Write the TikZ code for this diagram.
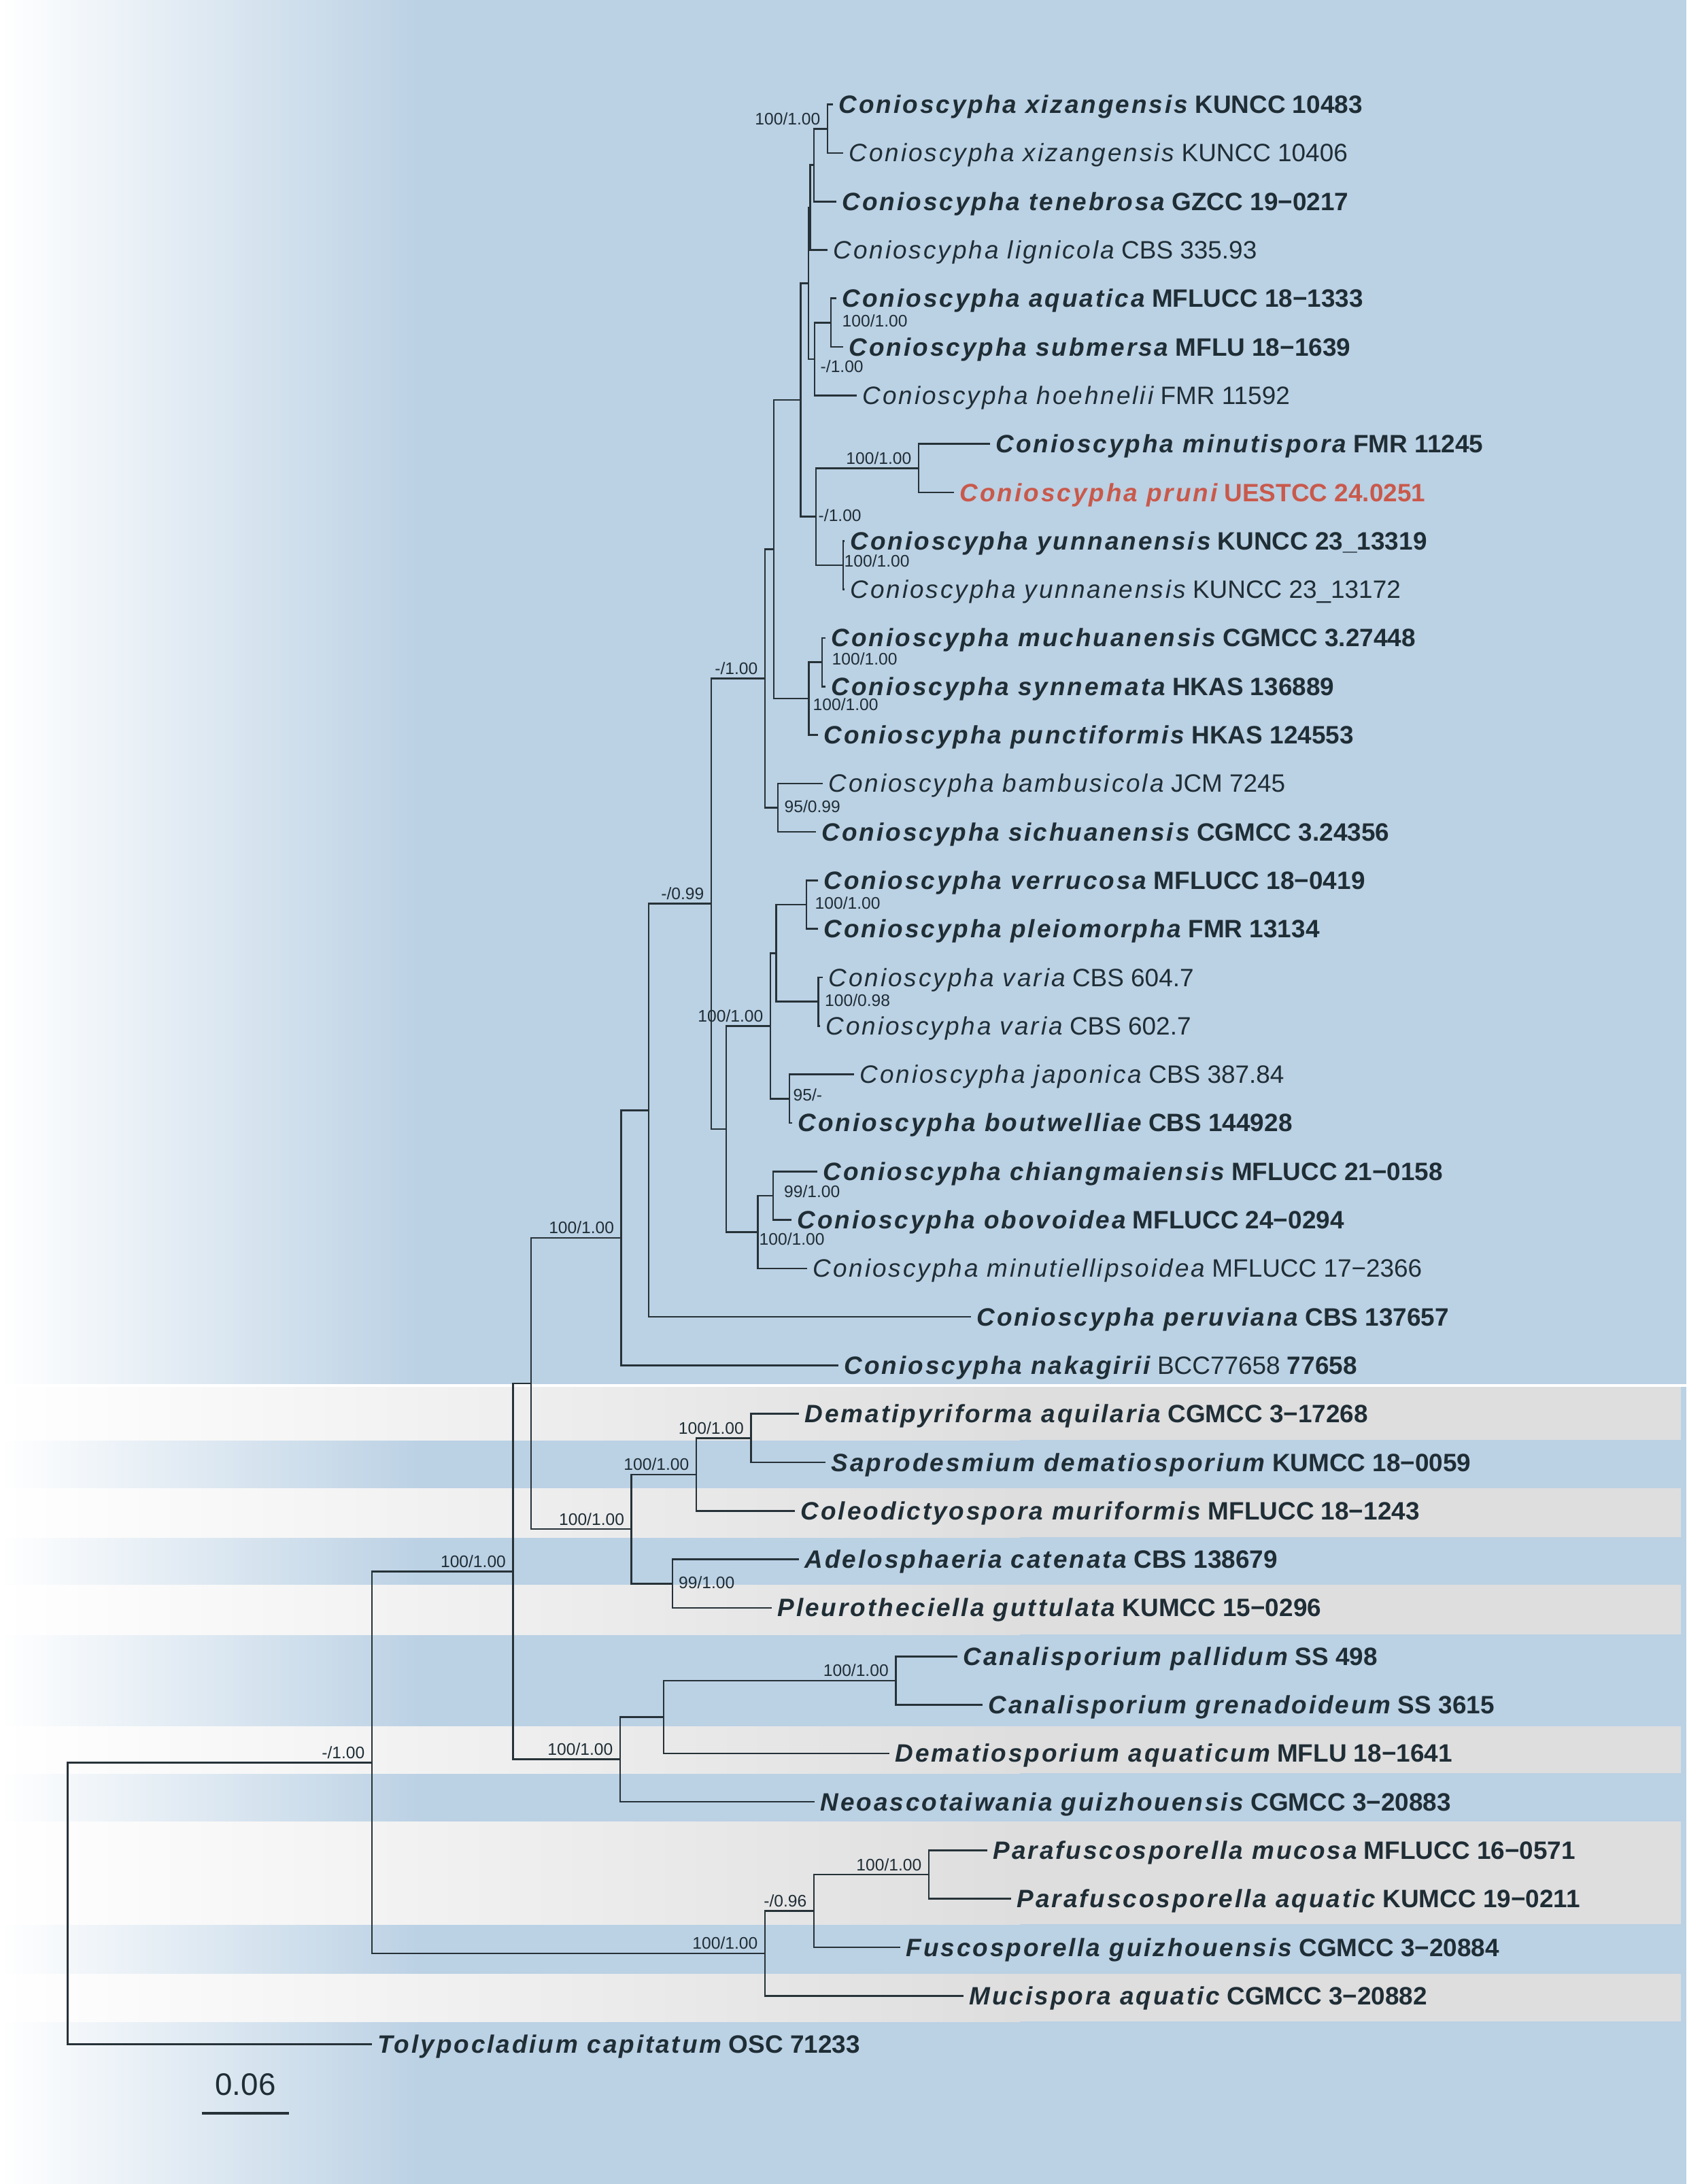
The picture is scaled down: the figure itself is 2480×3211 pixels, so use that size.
\documentclass[tikz,border=0pt]{standalone}
\usepackage{fontspec}
\setmainfont{Liberation Sans}
\newfontfamily\taxfont[LetterSpace=8]{Liberation Sans}
\usepackage{tikz}
\usetikzlibrary{positioning}
\definecolor{darkink}{HTML}{1F2D35}
\definecolor{branchcol}{HTML}{263238}
\definecolor{bgblue}{HTML}{BBD1E4}
\definecolor{bggrey}{HTML}{DEDEDF}
\definecolor{newsp}{HTML}{C9594B}
\newcommand{\bsp}[2]{{\taxfont\bfseries\itshape #1} {\bfseries #2}}
\newcommand{\rsp}[2]{{\taxfont\itshape #1} #2}

\begin{document}
\begin{tikzpicture}[x=0.01cm,y=-0.01cm]
    \tikzstyle{taxon}=[anchor=base west,inner sep=0pt,text=darkink,font=\fontsize{10.5}{12}\selectfont]
    \tikzstyle{support_lab}=[inner sep=0pt,text=darkink,font=\fontsize{7}{8}\selectfont]
    \tikzstyle{branch}=[draw=branchcol,line width=0.75pt]
    \useasboundingbox (0,0) rectangle (2480,3211);

    % background and bands
    \shade[left color=white,right color=bgblue] (0,0) rectangle (620,3211);
    \fill[bgblue] (619,0) rectangle (2480,3211);
    \foreach \top/\bot in {2038/2117,2188/2260,2330/2403,2538/2607,2678/2829,2902/2972}{
        \shade[left color=white,right color=bggrey] (0,\top) rectangle (1500,\bot);
        \fill[bggrey] (1499,\top) rectangle (2472,\bot);
    }
    \draw[white,line width=1pt] (0,2037) -- (2480,2037);

    % tips
    \coordinate (t1) at (1225,153.6);
    \coordinate (t2) at (1240,224.9);
    \coordinate (t3) at (1230,296.2);
    \coordinate (t4) at (1217,367.5);
    \coordinate (t5) at (1230,438.8);
    \coordinate (t6) at (1240,510.1);
    \coordinate (t7) at (1260,581.4);
    \coordinate (t8) at (1456,652.7);
    \coordinate (t9) at (1403,724.0);
    \coordinate (t10) at (1242,795.3);
    \coordinate (t11) at (1242,866.6);
    \coordinate (t12) at (1214,937.9);
    \coordinate (t13) at (1214,1009.2);
    \coordinate (t14) at (1203,1080.5);
    \coordinate (t15) at (1210,1151.8);
    \coordinate (t16) at (1200,1223.1);
    \coordinate (t17) at (1203,1294.4);
    \coordinate (t18) at (1203,1365.7);
    \coordinate (t19) at (1210,1437.0);
    \coordinate (t20) at (1206,1508.3);
    \coordinate (t21) at (1256,1579.6);
    \coordinate (t22) at (1165,1650.9);
    \coordinate (t23) at (1202,1722.2);
    \coordinate (t24) at (1164,1793.5);
    \coordinate (t25) at (1187,1864.8);
    \coordinate (t26) at (1428,1936.1);
    \coordinate (t27) at (1233,2007.4);
    \coordinate (t28) at (1175,2078.7);
    \coordinate (t29) at (1214,2150.0);
    \coordinate (t30) at (1169,2221.3);
    \coordinate (t31) at (1175,2292.6);
    \coordinate (t32) at (1135,2363.9);
    \coordinate (t33) at (1408,2435.2);
    \coordinate (t34) at (1445,2506.5);
    \coordinate (t35) at (1308,2577.8);
    \coordinate (t36) at (1198,2649.1);
    \coordinate (t37) at (1452,2720.4);
    \coordinate (t38) at (1487,2791.7);
    \coordinate (t39) at (1324,2863.0);
    \coordinate (t40) at (1417,2934.3);
    \coordinate (t41) at (547,3005.6);

    % internal nodes
    \coordinate (nA) at (1217,189.25);
    \coordinate (nB) at (1197,242.7);
    \coordinate (nC) at (1191.6,305.1);
    \coordinate (nAq) at (1222,474.45);
    \coordinate (nE) at (1198,527.9);
    \coordinate (nD) at (1189,416.5);
    \coordinate (nMi) at (1351,688.35);
    \coordinate (nYu) at (1240,830.95);
    \coordinate (nF) at (1200,759.65);
    \coordinate (nDF) at (1177.5,588.1);
    \coordinate (nMu) at (1209,973.55);
    \coordinate (nMg) at (1189.4,1027.0);
    \coordinate (nG) at (1138,807.5);
    \coordinate (nBa) at (1144,1187.45);
    \coordinate (nH) at (1125,997.5);
    \coordinate (nVe) at (1186,1330.05);
    \coordinate (nVa) at (1203.4,1472.65);
    \coordinate (nJ) at (1141.7,1401.35);
    \coordinate (nJa) at (1161,1615.25);
    \coordinate (nK) at (1133,1508.3);
    \coordinate (nCh) at (1137,1757.85);
    \coordinate (nM) at (1114.3,1811.3);
    \coordinate (nL) at (1068,1659.8);
    \coordinate (nI) at (1046,1328.65);
    \coordinate (nN) at (954,1632.4);
    \coordinate (nO) at (913.8,1819.9);
    \coordinate (nU) at (1104.5,2114.35);
    \coordinate (nS) at (1024,2167.8);
    \coordinate (nT) at (989,2328.25);
    \coordinate (nQ) at (928.7,2248);
    \coordinate (nP) at (781,2034);
    \coordinate (nX) at (1317.4,2470.85);
    \coordinate (nW) at (976,2524.3);
    \coordinate (nV) at (912,2586.7);
    \coordinate (nR) at (754.6,2310.4);
    \coordinate (nAA) at (1366,2756.05);
    \coordinate (nZb) at (1197,2809.5);
    \coordinate (nZ) at (1125,2871.9);
    \coordinate (nY) at (547,2591.2);
    \coordinate (root) at (99.5,2798.4);

    \foreach \n/\a/\b in {nA/t1/t2,nB/nA/t3,nC/nB/t4,nAq/t5/t6,nE/nAq/t7,nD/nC/nE,
        nMi/t8/t9,nYu/t10/t11,nF/nMi/nYu,nDF/nD/nF,nMu/t12/t13,nMg/nMu/t14,
        nG/nDF/nMg,nBa/t15/t16,nH/nG/nBa,nVe/t17/t18,nVa/t19/t20,nJ/nVe/nVa,
        nJa/t21/t22,nK/nJ/nJa,nCh/t23/t24,nM/nCh/t25,nL/nK/nM,nI/nH/nL,
        nN/nI/t26,nO/nN/t27,nU/t28/t29,nS/nU/t30,nT/t31/t32,nQ/nS/nT,nP/nO/nQ,
        nX/t33/t34,nW/nX/t35,nV/nW/t36,nR/nP/nV,nAA/t37/t38,nZb/nAA/t39,
        nZ/nZb/t40,nY/nR/nZ,root/nY/t41}
        \draw[branch] (\a) -| (\n) |- (\b);

    % taxa
    \node[taxon] (lab1) at ([shift={(8,13)}]t1) {\bsp{Conioscypha xizangensis}{KUNCC 10483}};
    \node[taxon] (lab2) at ([shift={(8,13)}]t2) {\rsp{Conioscypha xizangensis}{KUNCC 10406}};
    \node[taxon] (lab3) at ([shift={(8,13)}]t3) {\bsp{Conioscypha tenebrosa}{GZCC 19−0217}};
    \node[taxon] (lab4) at ([shift={(8,13)}]t4) {\rsp{Conioscypha lignicola}{CBS 335.93}};
    \node[taxon] (lab5) at ([shift={(8,13)}]t5) {\bsp{Conioscypha aquatica}{MFLUCC 18−1333}};
    \node[taxon] (lab6) at ([shift={(8,13)}]t6) {\bsp{Conioscypha submersa}{MFLU 18−1639}};
    \node[taxon] (lab7) at ([shift={(8,13)}]t7) {\rsp{Conioscypha hoehnelii}{FMR 11592}};
    \node[taxon] (lab8) at ([shift={(8,13)}]t8) {\bsp{Conioscypha minutispora}{FMR 11245}};
    \node[taxon,text=newsp] (lab9) at ([shift={(8,13)}]t9) {\bsp{Conioscypha pruni}{UESTCC 24.0251}};
    \node[taxon] (lab10) at ([shift={(8,13)}]t10) {\bsp{Conioscypha yunnanensis}{KUNCC 23\_13319}};
    \node[taxon] (lab11) at ([shift={(8,13)}]t11) {\rsp{Conioscypha yunnanensis}{KUNCC 23\_13172}};
    \node[taxon] (lab12) at ([shift={(8,13)}]t12) {\bsp{Conioscypha muchuanensis}{CGMCC 3.27448}};
    \node[taxon] (lab13) at ([shift={(8,13)}]t13) {\bsp{Conioscypha synnemata}{HKAS 136889}};
    \node[taxon] (lab14) at ([shift={(8,13)}]t14) {\bsp{Conioscypha punctiformis}{HKAS 124553}};
    \node[taxon] (lab15) at ([shift={(8,13)}]t15) {\rsp{Conioscypha bambusicola}{JCM 7245}};
    \node[taxon] (lab16) at ([shift={(8,13)}]t16) {\bsp{Conioscypha sichuanensis}{CGMCC 3.24356}};
    \node[taxon] (lab17) at ([shift={(8,13)}]t17) {\bsp{Conioscypha verrucosa}{MFLUCC 18−0419}};
    \node[taxon] (lab18) at ([shift={(8,13)}]t18) {\bsp{Conioscypha pleiomorpha}{FMR 13134}};
    \node[taxon] (lab19) at ([shift={(8,13)}]t19) {\rsp{Conioscypha varia}{CBS 604.7}};
    \node[taxon] (lab20) at ([shift={(8,13)}]t20) {\rsp{Conioscypha varia}{CBS 602.7}};
    \node[taxon] (lab21) at ([shift={(8,13)}]t21) {\rsp{Conioscypha japonica}{CBS 387.84}};
    \node[taxon] (lab22) at ([shift={(8,13)}]t22) {\bsp{Conioscypha boutwelliae}{CBS 144928}};
    \node[taxon] (lab23) at ([shift={(8,13)}]t23) {\bsp{Conioscypha chiangmaiensis}{MFLUCC 21−0158}};
    \node[taxon] (lab24) at ([shift={(8,13)}]t24) {\bsp{Conioscypha obovoidea}{MFLUCC 24−0294}};
    \node[taxon] (lab25) at ([shift={(8,13)}]t25) {\rsp{Conioscypha minutiellipsoidea}{MFLUCC 17−2366}};
    \node[taxon] (lab26) at ([shift={(8,13)}]t26) {\bsp{Conioscypha peruviana}{CBS 137657}};
    \node[taxon] (lab27) at ([shift={(8,13)}]t27) {{\taxfont\bfseries\itshape Conioscypha nakagirii} BCC77658 {\bfseries 77658}};
    \node[taxon] (lab28) at ([shift={(8,13)}]t28) {\bsp{Dematipyriforma aquilaria}{CGMCC 3−17268}};
    \node[taxon] (lab29) at ([shift={(8,13)}]t29) {\bsp{Saprodesmium dematiosporium}{KUMCC 18−0059}};
    \node[taxon] (lab30) at ([shift={(8,13)}]t30) {\bsp{Coleodictyospora muriformis}{MFLUCC 18−1243}};
    \node[taxon] (lab31) at ([shift={(8,13)}]t31) {\bsp{Adelosphaeria catenata}{CBS 138679}};
    \node[taxon] (lab32) at ([shift={(8,13)}]t32) {\bsp{Pleurotheciella guttulata}{KUMCC 15−0296}};
    \node[taxon] (lab33) at ([shift={(8,13)}]t33) {\bsp{Canalisporium pallidum}{SS 498}};
    \node[taxon] (lab34) at ([shift={(8,13)}]t34) {\bsp{Canalisporium grenadoideum}{SS 3615}};
    \node[taxon] (lab35) at ([shift={(8,13)}]t35) {\bsp{Dematiosporium aquaticum}{MFLU 18−1641}};
    \node[taxon] (lab36) at ([shift={(8,13)}]t36) {\bsp{Neoascotaiwania guizhouensis}{CGMCC 3−20883}};
    \node[taxon] (lab37) at ([shift={(8,13)}]t37) {\bsp{Parafuscosporella mucosa}{MFLUCC 16−0571}};
    \node[taxon] (lab38) at ([shift={(8,13)}]t38) {\bsp{Parafuscosporella aquatic}{KUMCC 19−0211}};
    \node[taxon] (lab39) at ([shift={(8,13)}]t39) {\bsp{Fuscosporella guizhouensis}{CGMCC 3−20884}};
    \node[taxon] (lab40) at ([shift={(8,13)}]t40) {\bsp{Mucispora aquatic}{CGMCC 3−20882}};
    \node[taxon] (lab41) at ([shift={(8,13)}]t41) {\bsp{Tolypocladium capitatum}{OSC 71233}};

    % support values
    \foreach \n/\v in {nA/{100/1.00},nMi/{100/1.00},nH/{-/1.00},nI/{-/0.99},nK/{100/1.00},
        nO/{100/1.00},nQ/{100/1.00},nS/{100/1.00},nU/{100/1.00},nR/{100/1.00},
        nV/{100/1.00},nX/{100/1.00},nY/{-/1.00},nZ/{100/1.00},nAA/{100/1.00},nZb/{-/0.96}}
        \node[support_lab,anchor=base east] (s_\n) at ([shift={(-10,-6)}]\n) {\v};
    \node[support_lab,anchor=west] (s_nAq) at (1238,472) {100/1.00};
    \node[support_lab,anchor=west] (s_nE) at (1206,539) {-/1.00};
    \node[support_lab,anchor=west] (s_nYu) at (1241,824.5) {100/1.00};
    \node[support_lab,anchor=west] (s_nF) at (1203,758) {-/1.00};
    \node[support_lab,anchor=west] (s_nMu) at (1223,969) {100/1.00};
    \node[support_lab,anchor=west] (s_nMg) at (1195,1036) {100/1.00};
    \node[support_lab,anchor=west] (s_nBa) at (1153,1185.7) {95/0.99};
    \node[support_lab,anchor=west] (s_nVe) at (1198,1328) {100/1.00};
    \node[support_lab,anchor=west] (s_nVa) at (1212.5,1471) {100/0.98};
    \node[support_lab,anchor=west] (s_nJa) at (1166,1610) {95/-};
    \node[support_lab,anchor=west] (s_nCh) at (1152.5,1752) {99/1.00};
    \node[support_lab,anchor=west] (s_nM) at (1116,1822) {100/1.00};
    \node[support_lab,anchor=west] (s_nT) at (997.5,2326.5) {99/1.00};

    % scale bar
    \coordinate (sb_l) at (297,3107);
    \coordinate (sb_r) at (425,3107);
    \draw[branch,line width=1.1pt] (sb_l) -- (sb_r);
    \node[inner sep=0pt,anchor=base,text=darkink,font=\fontsize{13}{14}\selectfont] (sb_lab) at (361,3080) {0.06};
\end{tikzpicture}
\end{document}
